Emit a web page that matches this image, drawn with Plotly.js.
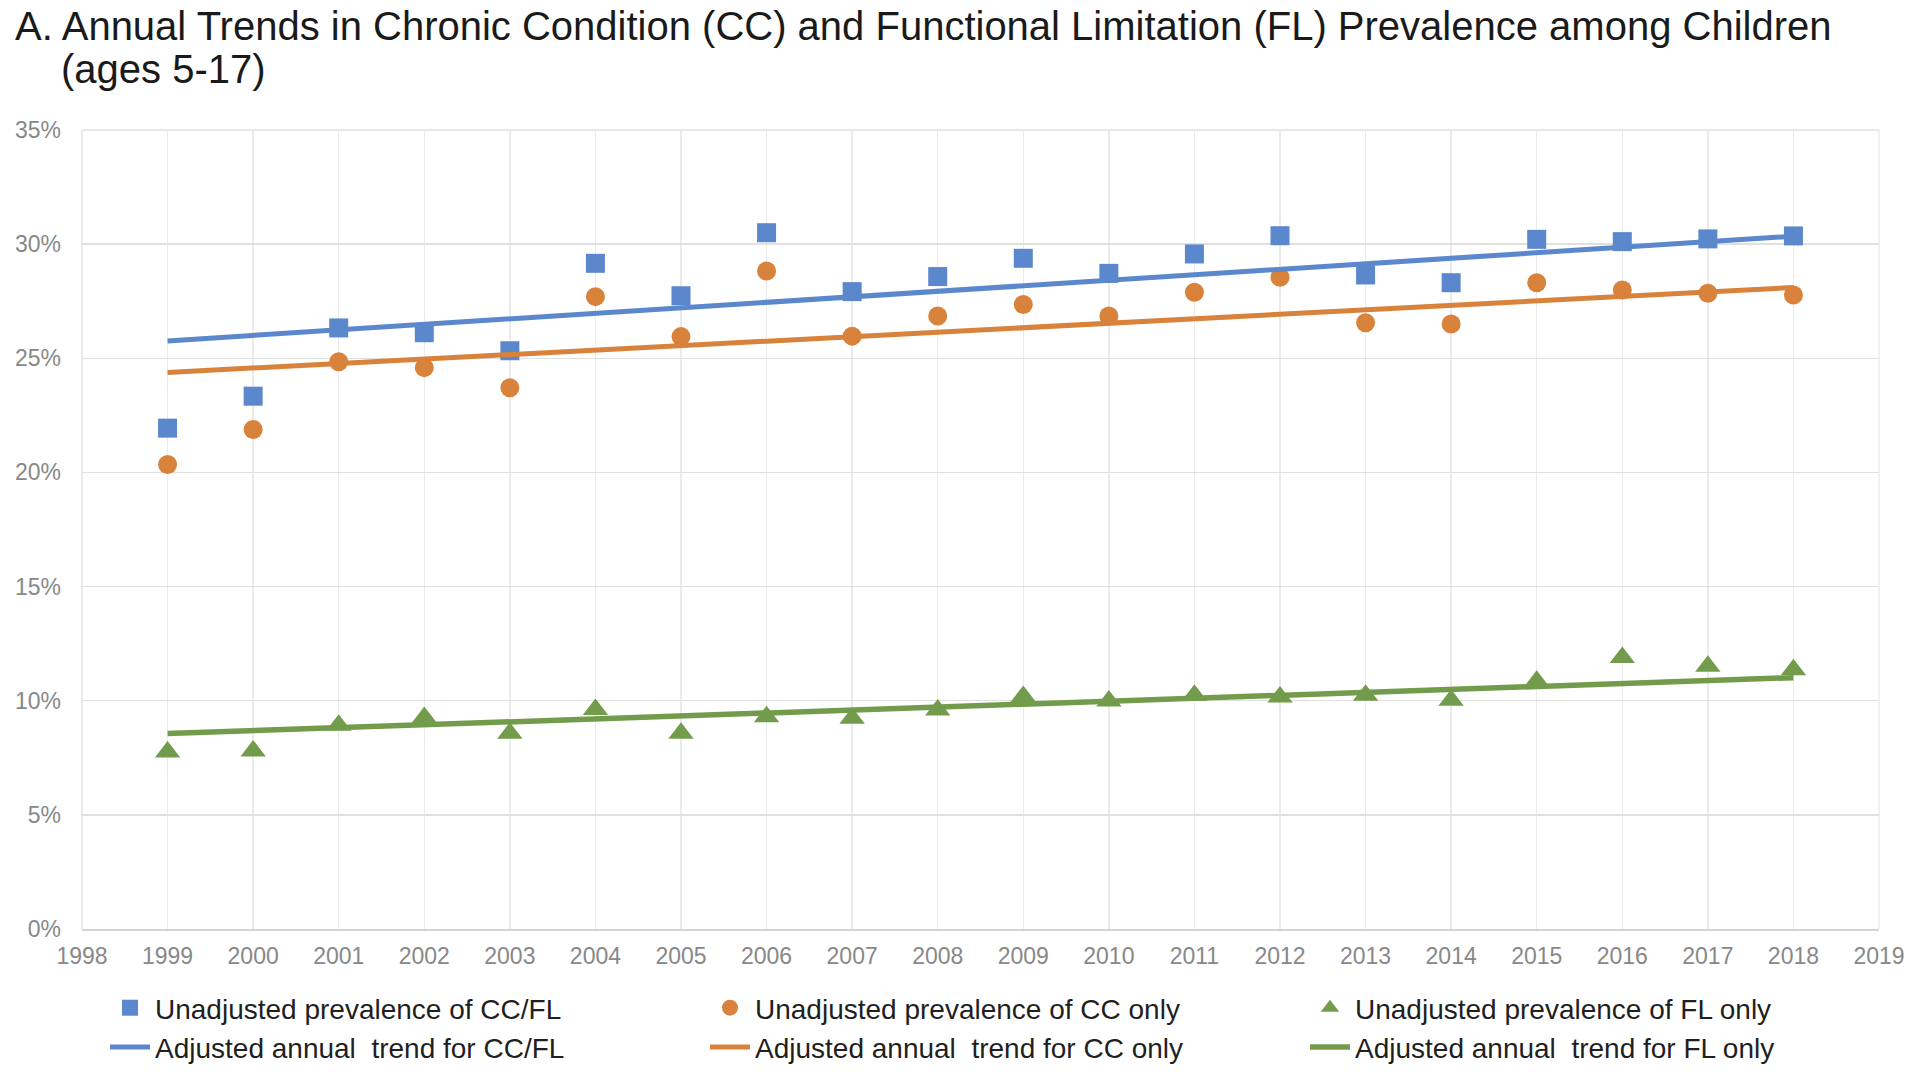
<!DOCTYPE html>
<html>
<head>
<meta charset="utf-8">
<script src="https://cdn.plot.ly/plotly-3.0.1.min.js"></script>
<style>
  html, body { margin: 0; padding: 0; background: #ffffff; }
  #chart { width: 1920px; height: 1079px; }
</style>
</head>
<body>
<div id="chart"></div>
<script>
// ---- Data (percent) ----
const years = [1999, 2000, 2001, 2002, 2003, 2004, 2005, 2006, 2007, 2008,
               2009, 2010, 2011, 2012, 2013, 2014, 2015, 2016, 2017, 2018];
const prevCCFL = [21.94, 23.34, 26.33, 26.12, 25.33, 29.16, 27.74, 30.50, 27.92, 28.58,
                  29.38, 28.72, 29.57, 30.37, 28.65, 28.31, 30.21, 30.11, 30.23, 30.36];
const prevCC   = [20.35, 21.88, 24.85, 24.59, 23.71, 27.70, 25.95, 28.82, 25.97, 26.85,
                  27.36, 26.85, 27.89, 28.55, 26.56, 26.50, 28.31, 27.99, 27.85, 27.77];
const prevFL   = [7.75, 7.80, 8.92, 9.27, 8.57, 9.61, 8.58, 9.30, 9.23, 9.59,
                  10.19, 9.99, 10.24, 10.16, 10.24, 10.02, 10.85, 11.89, 11.51, 11.36];

const trendYears = [1999, 2018];
const trendCCFL  = [25.76, 30.35];
const trendCC    = [24.38, 28.10];
const trendFL    = [8.56, 11.01];

const seriesNames = [
  'Unadjusted prevalence of CC/FL',
  'Unadjusted prevalence of CC only',
  'Unadjusted prevalence of FL only',
  'Adjusted annual\u00A0 trend for CC/FL',
  'Adjusted annual\u00A0 trend for CC only',
  'Adjusted annual\u00A0 trend for FL only'
];

const titleLine1 = 'A. Annual Trends in Chronic Condition (CC) and Functional Limitation (FL) Prevalence among Children';
const titleLine2 = '(ages 5-17)';

// ---- Styles ----
const FONT = 'Liberation Sans, Arial, Helvetica, sans-serif';
const BLUE = '#5b87cd';
const ORANGE = '#d8823b';
const GREEN = '#729c4b';

const traces = [
  { x: years, y: prevCCFL, name: seriesNames[0], type: 'scatter', mode: 'markers',
    marker: { symbol: 'square', size: 19, color: BLUE } },
  { x: years, y: prevCC, name: seriesNames[1], type: 'scatter', mode: 'markers',
    marker: { symbol: 'circle', size: 19, color: ORANGE } },
  { x: years, y: prevFL, name: seriesNames[2], type: 'scatter', mode: 'markers',
    marker: { symbol: 'triangle-up', size: 22, color: GREEN } },
  { x: trendYears, y: trendCCFL, name: seriesNames[3], type: 'scatter', mode: 'lines',
    line: { color: BLUE, width: 5 } },
  { x: trendYears, y: trendCC, name: seriesNames[4], type: 'scatter', mode: 'lines',
    line: { color: ORANGE, width: 5 } },
  { x: trendYears, y: trendFL, name: seriesNames[5], type: 'scatter', mode: 'lines',
    line: { color: GREEN, width: 5.5 } }
];

const layout = {
  width: 1920,
  height: 1079,
  paper_bgcolor: '#ffffff',
  plot_bgcolor: '#ffffff',
  font: { family: FONT, color: '#1f1f1f' },
  margin: { l: 82, r: 41, t: 130, b: 150, pad: 0 },
  title: {
    text: titleLine1,
    font: { family: FONT, size: 40, color: '#1a1a1a' },
    x: 15 / 1920, xref: 'container', xanchor: 'left',
    y: 1 - 12 / 1079, yref: 'container', yanchor: 'top'
  },
  annotations: [
    { text: titleLine2, showarrow: false,
      xref: 'paper', yref: 'paper',
      x: (59 - 82) / 1797, xanchor: 'left',
      y: (929 - 69) / 799, yanchor: 'middle',
      font: { family: FONT, size: 40, color: '#1a1a1a' } }
  ],
  xaxis: {
    range: [1998, 2019],
    tickmode: 'linear', tick0: 1998, dtick: 1,
    showgrid: true, gridcolor: '#ebebeb', gridwidth: 1.5,
    zeroline: false,
    showline: true, linecolor: '#d4d4d4', linewidth: 2, mirror: false,
    ticks: '',
    ticklabelstandoff: 5,
    tickfont: { family: FONT, size: 23, color: '#888888' },
    fixedrange: true
  },
  yaxis: {
    range: [0, 35],
    tickmode: 'linear', tick0: 0, dtick: 5,
    ticksuffix: '%',
    showgrid: true, gridcolor: '#e0e0e0', gridwidth: 1.5,
    zeroline: false,
    showline: false,
    ticks: '',
    ticklabelstandoff: 20,
    tickfont: { family: FONT, size: 23, color: '#888888' },
    fixedrange: true
  },
  showlegend: true,
  legend: {
    orientation: 'h',
    xref: 'container', yref: 'container',
    x: 105 / 1920, xanchor: 'left',
    y: 1 - 983 / 1079, yanchor: 'top',
    entrywidth: 545, entrywidthmode: 'pixels',
    itemwidth: 40,
    font: { family: FONT, size: 28, color: '#1f1f1f' },
    bgcolor: 'rgba(0,0,0,0)',
    borderwidth: 0,
    traceorder: 'normal',
    tracegroupgap: 0
  },
  shapes: [
    { type: 'line', xref: 'paper', yref: 'paper', x0: 1, x1: 1, y0: 0, y1: 1,
      line: { color: '#ebebeb', width: 1.5 }, layer: 'below' },
    { type: 'line', xref: 'paper', yref: 'paper', x0: 0, x1: 0, y0: 0, y1: 1,
      line: { color: '#e6e6e6', width: 1.5 }, layer: 'below' },
    { type: 'line', xref: 'paper', yref: 'paper', x0: 0, x1: 1, y0: 1, y1: 1,
      line: { color: '#e0e0e0', width: 1.5 }, layer: 'below' }
  ]
};

Plotly.newPlot('chart', traces, layout, { staticPlot: true, displayModeBar: false });
</script>
</body>
</html>
